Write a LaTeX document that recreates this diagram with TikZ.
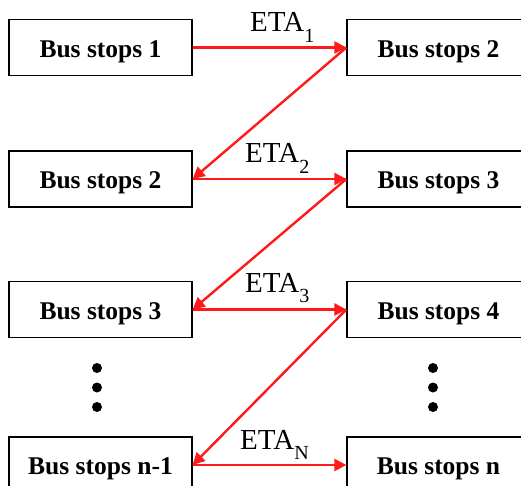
\documentclass[tikz,border=0pt]{standalone}
\usepackage{fontspec}
\setmainfont{Liberation Serif}
\usetikzlibrary{arrows.meta}
\definecolor{arrowred}{RGB}{255,25,25}
\tikzset{
  stopbox/.style={draw=black, line width=1.3pt, minimum width=183pt, minimum height=56pt,
    inner sep=0pt, text height=20pt, text depth=0.6pt,
    font=\fontsize{25.5}{28}\selectfont\bfseries},
  eta/.style={anchor=base west, inner sep=0pt, font=\fontsize{29}{32}\selectfont},
  link/.style={draw=arrowred, line width=2.4pt, -{Triangle[length=12pt,width=12pt]}},
  vdot/.style={circle, fill=black, inner sep=0pt, minimum size=10pt}
}
\newcommand{\etasub}[1]{\raisebox{-10.5pt}{\fontsize{20}{20}\selectfont #1}}
\begin{document}
\begin{tikzpicture}[x=1pt,y=-1pt]
\useasboundingbox (0,0) rectangle (521,486);
\clip (0,0) rectangle (521,486);
\fill[white] (0,0) rectangle (521,486);
% left column
\node[stopbox] (L1) at (100.5,47.5) {Bus stops 1};
\node[stopbox] (L2) at (100.5,179) {Bus stops 2};
\node[stopbox] (L3) at (100.5,309.5) {Bus stops 3};
\node[stopbox] (L4) at (100.5,465) {Bus stops n-1};
% right column
\node[stopbox] (R1) at (438.5,47.5) {Bus stops 2};
\node[stopbox] (R2) at (438.5,179) {Bus stops 3};
\node[stopbox] (R3) at (438.5,309.5) {Bus stops 4};
\node[stopbox] (R4) at (438.5,465) {Bus stops n};
% dots
\node[vdot] (dl1) at (97,368) {};
\node[vdot] (dl2) at (97,387.5) {};
\node[vdot] (dl3) at (97,407) {};
\node[vdot] (dr1) at (433,368) {};
\node[vdot] (dr2) at (433,387.5) {};
\node[vdot] (dr3) at (433,407) {};
% arrows
\draw[link] (L1.east) -- (R1.west);
\draw[link] (R1.west) -- (L2.east);
\draw[link] (L2.east) -- (R2.west);
\draw[link] (R2.west) -- (L3.east);
\draw[link] (L3.east) -- (R3.west);
\draw[link] (R3.west) -- (L4.east);
\draw[link] (L4.east) -- (R4.west);
% labels
\node[eta] (e1) at (250,31.7) {ETA\etasub{1}};
\node[eta] (e2) at (245,163) {ETA\etasub{2}};
\node[eta] (e3) at (245,292) {ETA\etasub{3}};
\node[eta] (eN) at (240,449) {ETA\etasub{N}};
\end{tikzpicture}
\end{document}
